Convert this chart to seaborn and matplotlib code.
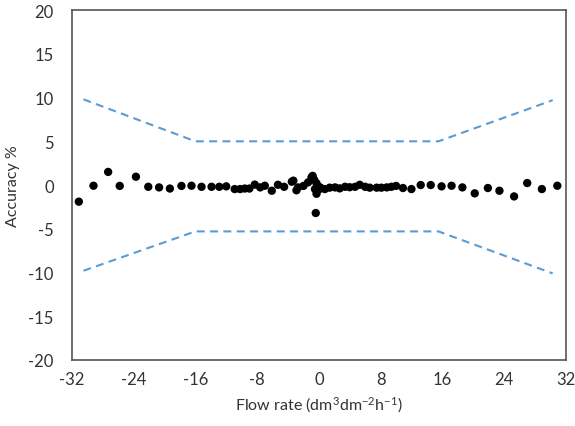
import matplotlib
matplotlib.use("Agg")
import matplotlib.pyplot as plt
import seaborn as sns
import pandas as pd

sns.set_theme(style="white")
plt.rcParams['font.family'] = ['Lato', 'DejaVu Sans']
plt.rcParams['mathtext.default'] = 'regular'
plt.rcParams['axes.unicode_minus'] = False

# measured points: flow rate vs accuracy
flow = [-31.1, -29.2, -27.3, -25.8, -23.7, -22.1, -20.7, -19.3, -17.8, -16.5,
        -15.2, -13.9, -12.9, -12.0, -10.9, -10.2, -9.6, -9.0, -8.3, -7.6,
        -7.0, -6.1, -5.3, -4.5, -3.5, -2.9, -3.3, -2.7, -2.0, -1.4,
        -0.95, -0.8, -0.6, -0.5, -0.3, -0.3, -0.4, 0.0, 0.13, 0.2,
        0.78, 1.4, 2.1, 2.7, 3.4, 4.0, 4.7, 5.3, 6.0, 6.6,
        7.5, 8.1, 8.8, 9.4, 10.0, 10.9, 12.0, 13.2, 14.5, 15.9,
        17.2, 18.6, 20.2, 21.9, 23.4, 25.3, 27.0, 28.9, 30.9]
accuracy = [-1.9, -0.08, 1.5, -0.1, 0.95, -0.2, -0.27, -0.4, -0.1, -0.08,
            -0.2, -0.2, -0.2, -0.15, -0.46, -0.46, -0.4, -0.4, 0.05, -0.27,
            -0.08, -0.65, 0.03, -0.2, 0.38, -0.6, 0.5, -0.27, -0.1, 0.3,
            0.88, 1.05, 0.6, -0.46, 0.2, -1.0, -3.2, -0.5, -0.27, -0.3,
            -0.46, -0.3, -0.27, -0.38, -0.2, -0.25, -0.2, 0.03, -0.2, -0.3,
            -0.3, -0.3, -0.27, -0.2, -0.1, -0.34, -0.46, 0.0, 0.0, -0.15,
            -0.08, -0.27, -0.95, -0.34, -0.65, -1.3, 0.23, -0.46, -0.08]

# tolerance envelope
limit_x = [-30.5, -16.0, 15.5, 30.3]
upper_limit = [9.8, 5.0, 5.0, 9.7]
lower_limit = [-9.8, -5.3, -5.3, -10.1]

x_ticks = [-32, -24, -16, -8, 0, 8, 16, 24, 32]
y_ticks = [-20, -15, -10, -5, 0, 5, 10, 15, 20]

pts = pd.DataFrame({"flow": flow, "accuracy": accuracy})
env = pd.DataFrame({"x": limit_x, "up": upper_limit, "lo": lower_limit})

fig = plt.figure(figsize=(5.75, 4.27), dpi=100)
ax = fig.add_axes([0.125, 0.1546, 0.859, 0.8194])

line_col = "#5B9BD5"
sns.lineplot(data=env, x="x", y="up", ax=ax, color=line_col, lw=1.5,
             dashes=False, linestyle=(0, (3.8, 2.6)), sort=False)
sns.lineplot(data=env, x="x", y="lo", ax=ax, color=line_col, lw=1.5,
             dashes=False, linestyle=(0, (3.8, 2.6)), sort=False)
sns.scatterplot(data=pts, x="flow", y="accuracy", ax=ax, color="black",
                s=36, edgecolor="none", zorder=5)

ax.set_xlim(-32, 32)
ax.set_ylim(-20, 20)
ax.set_xticks(x_ticks)
ax.set_yticks(y_ticks)
ax.tick_params(axis="x", length=0, labelsize=12, colors="#333333", pad=8)
ax.tick_params(axis="y", length=0, labelsize=12, colors="#333333", pad=13)
for sp in ax.spines.values():
    sp.set_color("#555555")
    sp.set_linewidth(1.2)
ax.set_xlabel("Flow rate (dm$^3$dm$^{-2}$h$^{-1}$)", fontsize=11.5, color="#333333", labelpad=5)
ax.set_ylabel("Accuracy %", fontsize=11.5, color="#333333", labelpad=6)

fig.savefig("out.png", dpi=100)
